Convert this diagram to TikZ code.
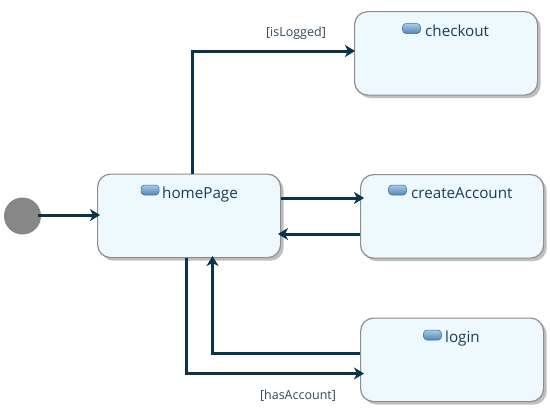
\documentclass[tikz,border=0pt]{standalone}
\usepackage{fontspec}
\setmainfont{Open Sans}
\usetikzlibrary{arrows.meta,shadows,calc}
\definecolor{linec}{HTML}{0B3349}
\definecolor{boxfill}{HTML}{EDF8FF}
\definecolor{boxdraw}{HTML}{8E8E8E}
\definecolor{txt}{HTML}{1F3D52}
\definecolor{lab}{HTML}{33495A}
\definecolor{pilltop}{HTML}{A9CBE6}
\definecolor{pillbot}{HTML}{4F86B5}
\tikzset{
  x=1pt,y=-1pt,
  statebox/.style={draw=boxdraw,line width=1.2pt,fill=boxfill,rounded corners=13pt,minimum width=183pt,minimum height=83.5pt,inner sep=0pt,anchor=north west,
    drop shadow={shadow xshift=3pt,shadow yshift=-3pt,fill=black!45,opacity=0.55}},
  statename/.style={text=txt,font=\fontsize{15.2}{18}\selectfont,anchor=base west,inner sep=0pt},
  pill/.style={draw=pillbot!80!black,line width=0.5pt,rounded corners=3.5pt,minimum width=18pt,minimum height=10pt,inner sep=0pt,top color=pilltop,bottom color=pillbot},
  conn/.style={draw=linec,line width=3pt,-{Stealth[length=10pt,width=12pt,inset=3pt]}},
  guard/.style={text=lab,font=\fontsize{12.5}{14}\selectfont,inner sep=0pt},
  startdot/.style={circle,fill=black!47,draw=none,minimum size=37pt,inner sep=0pt}
}
\begin{document}
\begin{tikzpicture}
\useasboundingbox (0,0) rectangle (550,415);
\fill[white] (0,0) rectangle (550,415);
\node[startdot] (start) at (22.5,216) {};
\node[statebox] (home) at (97,173.5) {};
\node[statebox] (check) at (354,11) {};
\node[statebox] (create) at (360,174) {};
\node[statebox] (login) at (360,317.5) {};
% names
\node[pill] (p1) at (150,190) {};
\node[statename] (t1) at (162,198) {homePage};
\node[pill] (p2) at (411.5,28.5) {};
\node[statename] (t2) at (425,36) {checkout};
\node[pill] (p3) at (397.5,190) {};
\node[statename] (t3) at (411,198) {createAccount};
\node[pill] (p4) at (432.5,335) {};
\node[statename] (t4) at (445,342) {login};
% connector anchors
\coordinate (hTop) at (192,174);
\coordinate (cLeft) at (355,51);
\coordinate (sRight) at (38,215);
\coordinate (hLeft) at (100,215);
\coordinate (hR1) at (281,198);
\coordinate (crL1) at (364,198);
\coordinate (crL2) at (360,234);
\coordinate (hR2) at (278,234);
\coordinate (hB1) at (186.5,258);
\coordinate (lL1) at (364,373.5);
\coordinate (lL2) at (360,353);
\coordinate (hB2) at (212.5,256);
\draw[conn] (sRight) -- (hLeft);
\draw[conn] (hTop) |- (cLeft);
\draw[conn] (hR1) -- (crL1);
\draw[conn] (crL2) -- (hR2);
\draw[conn] (hB1) |- (lL1);
\draw[conn] (lL2) -| (hB2);
\node[guard] (g1) at (296,33.5) {[isLogged]};
\node[guard] (g2) at (298,396) {[hasAccount]};
\end{tikzpicture}
\end{document}
